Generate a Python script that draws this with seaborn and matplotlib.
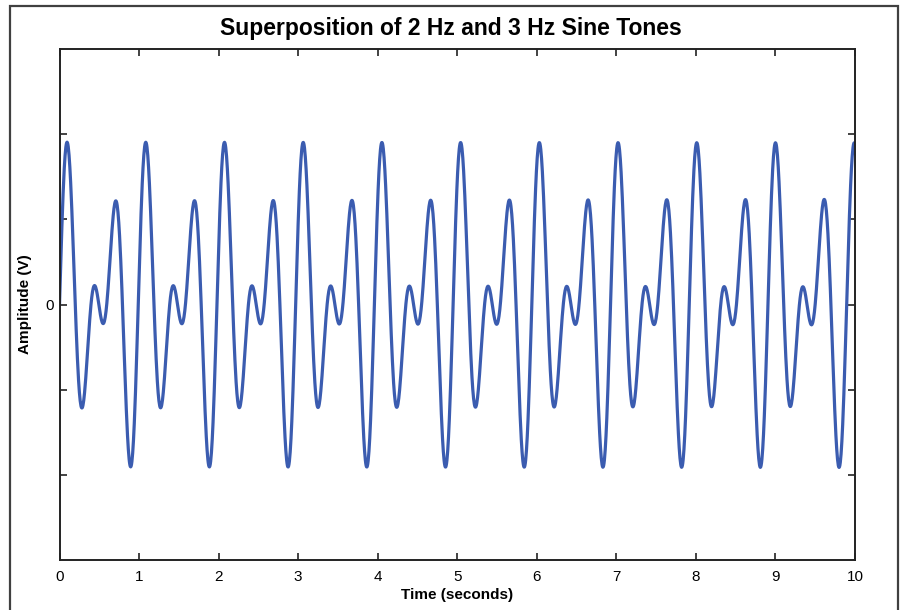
import numpy as np
import pandas as pd
import matplotlib
matplotlib.use("Agg")
import matplotlib.pyplot as plt
import seaborn as sns
from matplotlib.patches import Rectangle

# ---- data ----
tone_freqs_hz = [2.021, 3.032]  # component frequencies as drawn (nominal 2 Hz and 3 Hz)
tone_amps_v = [1.0, 1.0]        # component amplitudes (V)
duration_s = 10.0
sample_rate = 200               # samples per second
ytick_values = [-2, -1, 0, 1, 2]
ytick_labels = ["", "", "0", "", ""]
xtick_values = list(range(0, 11))

t = np.arange(0, duration_s * sample_rate + 1) / sample_rate
signal = np.zeros_like(t)
for f, a in zip(tone_freqs_hz, tone_amps_v):
    signal += a * np.sin(2 * np.pi * f * t)
df = pd.DataFrame({"Time (seconds)": t, "Amplitude (V)": signal})

sns.set_theme(style="white")
plt.rcParams["font.family"] = ["Liberation Sans", "DejaVu Sans"]
plt.rcParams["text.color"] = "black"
plt.rcParams["axes.labelcolor"] = "black"

fig = plt.figure(figsize=(9.02, 6.10), dpi=100)
ax = fig.add_axes([59.5 / 902, 1 - 560 / 610, 795.5 / 902, 511 / 610])

# outer figure frame
fig.patches.append(Rectangle((10 / 902, -0.05), 888 / 902, 0.05 + 1 - 6 / 610,
                             transform=fig.transFigure, fill=False,
                             edgecolor="#404040", linewidth=1.6, zorder=0))

sns.lineplot(data=df, x="Time (seconds)", y="Amplitude (V)", ax=ax,
             color="#3b5cb0", linewidth=2.3)

ax.set_xlim(0, 10)
ax.set_ylim(-3, 3)
ax.set_xticks(xtick_values)
ax.set_xticklabels([str(v) for v in xtick_values])
ax.set_yticks(ytick_values)
ax.set_yticklabels(ytick_labels)
ax.tick_params(direction="in", length=4.8, width=1.2, color="#222222",
               top=True, right=True, bottom=True, left=True,
               labelsize=11, labelcolor="black")
ax.tick_params(axis="x", pad=7)
ax.tick_params(axis="y", pad=4)
for s in ax.spines.values():
    s.set_visible(True)
    s.set_color("#222222")
    s.set_linewidth(1.4)

ax.set_xlabel("Time (seconds)", fontsize=11, fontweight="bold", labelpad=3,
              color="black")
ax.set_ylabel("Amplitude (V)", fontsize=11, fontweight="bold", labelpad=10,
              color="black")
fig.text(0.5, 1 - 28 / 610, "Superposition of 2 Hz and 3 Hz Sine Tones",
         ha="center", va="center", fontsize=16.5, fontweight="bold",
         color="black")

fig.savefig("out.png", dpi=100)
